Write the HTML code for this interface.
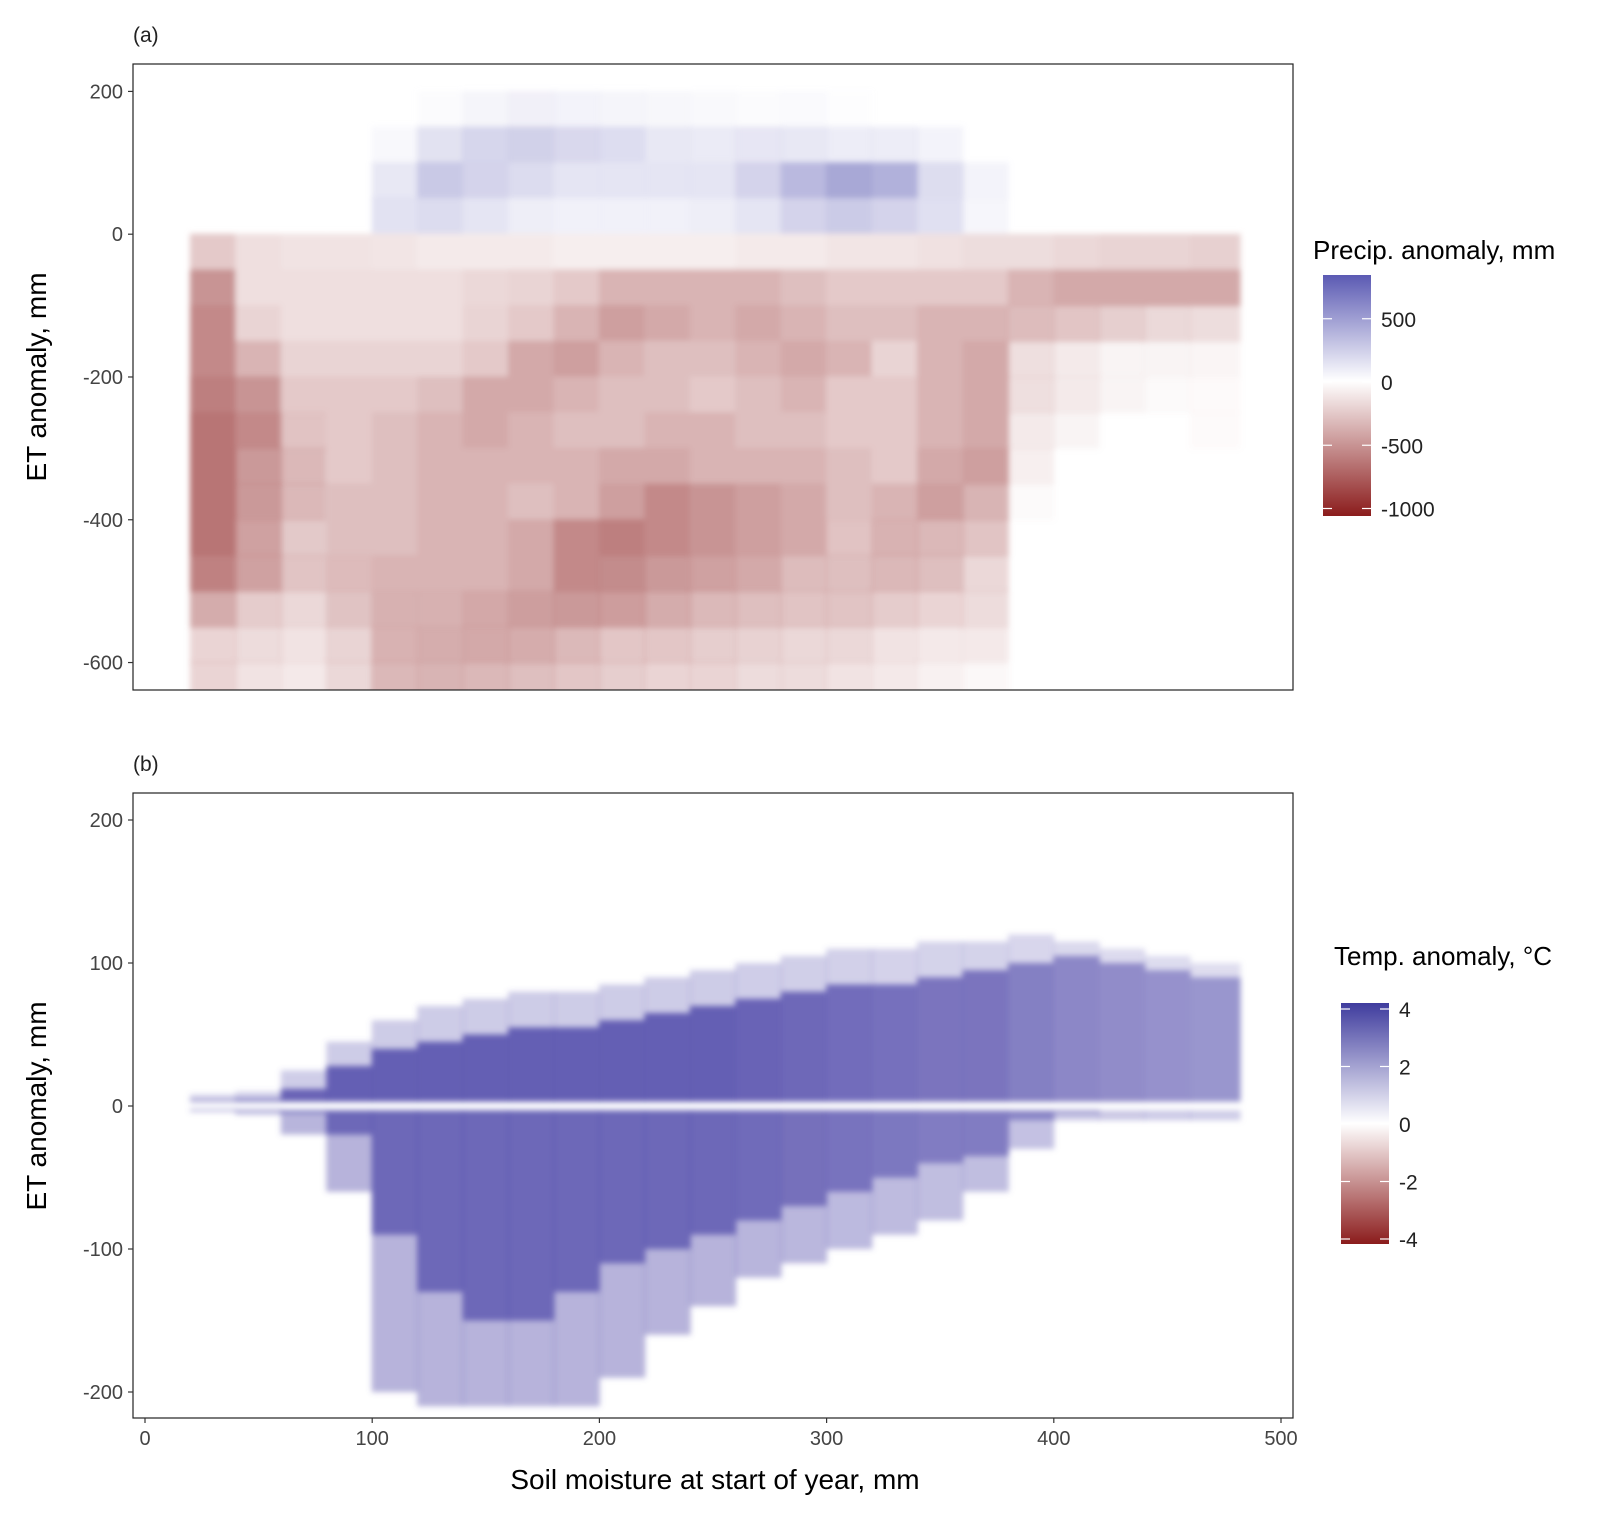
<!DOCTYPE html>
<html><head><meta charset="utf-8"><style>
body{margin:0;background:#fff;font-family:"Liberation Sans",sans-serif}
text{font-family:"Liberation Sans","DejaVu Sans",sans-serif}
</style></head><body>
<svg id="svg" width="1620" height="1513" xmlns="http://www.w3.org/2000/svg">
<defs>
<filter id="blur" x="-5%" y="-5%" width="110%" height="110%"><feGaussianBlur stdDeviation="3"/></filter>
<clipPath id="clipA"><rect x="133" y="64" width="1160" height="626"/></clipPath>
<clipPath id="clipB"><rect x="133" y="793" width="1160" height="625"/></clipPath>
<linearGradient id="gradA" x1="0" y1="0" x2="0" y2="1">
<stop offset="0" stop-color="#5b5ab3"/><stop offset="0.44" stop-color="#ffffff"/><stop offset="1" stop-color="#8b1c1c"/></linearGradient>
<linearGradient id="gradB" x1="0" y1="0" x2="0" y2="1">
<stop offset="0" stop-color="#3f3c9e"/><stop offset="0.5" stop-color="#ffffff"/><stop offset="1" stop-color="#8b1c1c"/></linearGradient>
</defs>
<g id="layerA" clip-path="url(#clipA)" filter="url(#blur)"></g>
<g id="layerB" clip-path="url(#clipB)" filter="url(#blur)"></g>
<rect x="133" y="64" width="1160" height="626" fill="none" stroke="#222" stroke-width="1.2"/>
<rect x="133" y="793" width="1160" height="625" fill="none" stroke="#222" stroke-width="1.2"/>
<text x="133" y="42" font-size="21" fill="#222">(a)</text>
<text x="133" y="771" font-size="21" fill="#222">(b)</text>
<text transform="translate(46,377) rotate(-90)" text-anchor="middle" font-size="28" fill="#000">ET anomaly, mm</text>
<text transform="translate(46,1106) rotate(-90)" text-anchor="middle" font-size="28" fill="#000">ET anomaly, mm</text>
<text x="715" y="1489" text-anchor="middle" font-size="28" fill="#000">Soil moisture at start of year, mm</text>
<g id="axes"></g>
<text x="1313" y="259" font-size="26" fill="#000">Precip. anomaly, mm</text>
<rect x="1323" y="275" width="48" height="241" fill="url(#gradA)"/>
<text x="1334" y="965" font-size="26" fill="#000">Temp. anomaly, °C</text>
<rect x="1341" y="1003" width="48" height="241" fill="url(#gradB)"/>
<g id="legends"></g>
</svg>
<script>
// ---------- data ----------
const xBins=[30,50,70,90,110,130,150,170,190,210,230,250,270,290,310,330,350,370,390,410,430,450,470];
const etRowsA=[175,125,75,25,-25,-75,-125,-175,-225,-275,-325,-375,-425,-475,-525,-575,-625];
const N=null;
// precip anomaly per cell (rows=etRowsA, cols=xBins)
const precipA=[
[N,N,N,N,N,200,200,250,200,200,200,200,200,250,250,N,N,N,N,N,N,N,N],
[N,N,N,N,250,300,300,300,250,250,200,200,250,300,300,300,300,N,N,N,N,N,N],
[N,N,N,N,300,350,250,200,150,150,150,150,250,400,500,450,350,300,N,N,N,N,N],
[N,N,N,N,250,200,150,100,80,80,80,100,150,250,300,250,200,150,N,N,N,N,N],
[-250,-150,-130,-130,-120,-100,-100,-100,-80,-80,-80,-80,-100,-100,-120,-120,-140,-160,-160,-180,-200,-200,-220],
[-500,-150,-150,-150,-150,-150,-180,-200,-250,-350,-350,-350,-350,-300,-250,-250,-250,-250,-350,-400,-400,-400,-400],
[-550,-200,-150,-150,-150,-150,-200,-250,-350,-450,-400,-350,-400,-350,-300,-300,-350,-350,-450,-450,-450,-450,-400],
[-550,-350,-200,-200,-200,-200,-250,-400,-450,-350,-300,-300,-350,-400,-350,-200,-350,-400,-500,-500,-500,-500,-450],
[-600,-500,-250,-250,-250,-300,-400,-400,-350,-300,-300,-250,-300,-350,-250,-250,-350,-400,-500,-500,-500,-500,-450],
[-650,-550,-350,-250,-300,-350,-400,-350,-300,-300,-350,-350,-300,-300,-250,-250,-350,-400,-500,-500,N,N,-450],
[-650,-600,-550,-250,-300,-350,-350,-350,-350,-400,-400,-350,-350,-350,-300,-250,-400,-450,-500,N,N,N,N],
[-650,-600,-550,-300,-300,-350,-350,-300,-350,-450,-550,-500,-450,-400,-300,-350,-450,-500,-500,N,N,N,N],
[-650,-550,-500,-300,-300,-350,-350,-400,-550,-600,-550,-500,-450,-400,-350,-450,-550,-550,N,N,N,N,N],
[-650,-550,-550,-350,-350,-350,-350,-400,-550,-600,-600,-550,-500,-450,-500,-550,-600,-600,N,N,N,N,N],
[-650,-600,-600,-400,-400,-400,-450,-500,-600,-650,-650,-650,-600,-550,-550,-600,-650,-650,N,N,N,N,N],
[-650,-650,-650,-500,-450,-450,-500,-550,-650,-650,-650,-650,-600,-600,-600,-650,-650,-650,N,N,N,N,N],
[-650,-650,-650,-600,-550,-500,-550,-600,-650,-650,-650,-650,-650,-650,-650,-650,-650,-650,N,N,N,N,N]];
// point density per cell (0..1)
const densityA=[
[0,0,0,0,0,.1,.25,.3,.3,.25,.2,.15,.1,.1,.05,0,0,0,0,0,0,0,0],
[0,0,0,0,.15,.5,.7,.8,.8,.7,.6,.5,.5,.4,.3,.3,.2,0,0,0,0,0,0],
[0,0,0,0,.4,.8,.9,.9,.9,.9,.9,.9,.9,.9,.9,.9,.5,.2,0,0,0,0,0],
[0,0,0,0,.6,.9,.9,.9,.9,.9,.9,.9,.9,.9,.9,.9,.8,.3,0,0,0,0,0],
[1,1,1,1,1,1,1,1,1,1,1,1,1,1,1,1,1,1,1,1,1,1,1],
[1,1,1,1,1,1,1,1,1,1,1,1,1,1,1,1,1,1,1,1,1,1,1],
[1,1,1,1,1,1,1,1,1,1,1,1,1,1,1,1,1,1,.7,.6,.5,.4,.4],
[1,1,1,1,1,1,1,1,1,1,1,1,1,1,1,1,1,1,.3,.2,.1,.1,.1],
[1,1,1,1,1,1,1,1,1,1,1,1,1,1,1,1,1,1,.3,.2,.1,.05,.05],
[1,1,.8,1,1,1,1,1,1,1,1,1,1,1,1,1,1,1,.2,.1,0,0,.05],
[1,.8,.6,1,1,1,1,1,1,1,1,1,1,1,1,1,1,1,.15,0,0,0,0],
[1,.8,.6,1,1,1,1,1,1,1,1,1,1,1,1,1,1,.7,.05,0,0,0,0],
[1,.8,.5,1,1,1,1,1,1,1,1,1,1,1,.8,.8,.6,.5,0,0,0,0,0],
[.9,.8,.5,.9,1,1,1,1,1,.9,.8,.8,.8,.7,.6,.6,.5,.3,0,0,0,0,0],
[.6,.4,.3,.7,.9,.9,.9,.9,.8,.7,.6,.5,.5,.5,.5,.4,.3,.25,0,0,0,0,0],
[.3,.25,.2,.4,.8,.85,.8,.7,.5,.4,.4,.35,.35,.3,.3,.2,.15,.15,0,0,0,0,0],
[.3,.2,.15,.3,.6,.7,.6,.5,.4,.35,.3,.3,.25,.25,.2,.15,.1,.05,0,0,0,0,0]];
// panel b: per x bin
const bUpperTop=[4,5,12,28,40,45,50,55,55,60,65,70,75,80,85,85,90,95,100,105,100,95,90];
const bUpperSparse=[8,10,25,45,60,70,75,80,80,85,90,95,100,105,110,110,115,115,120,115,110,105,100];
const bLowerDense=[-2,-2,-5,-20,-90,-130,-150,-150,-130,-110,-100,-90,-80,-70,-60,-50,-40,-35,-10,-5,-3,-3,-3];
const bLowerSparse=[-4,-6,-20,-60,-200,-210,-210,-210,-210,-190,-160,-140,-120,-110,-100,-90,-80,-60,-30,-10,-10,-10,-10];
const bTemp=[3.2,3.2,3.4,3.5,3.5,3.5,3.5,3.5,3.5,3.5,3.5,3.5,3.4,3.3,3.2,3.1,3.0,3.0,2.8,2.6,2.5,2.4,2.3];
const xTicks=[0,100,200,300,400,500];
const yTicksA=[200,0,-200,-400,-600];
const yTicksB=[200,100,0,-100,-200];
const legATicks=[500,0,-500,-1000];
const legBTicks=[4,2,0,-2,-4];
// ---------- scales ----------
const X=v=>145+v*2.272;
const YA=v=>234.2-v*0.7139;
const YB=v=>1106-v*1.43;
const lerp=(a,b,t)=>a.map((c,i)=>Math.round(c+(b[i]-c)*t));
const rgb=c=>`rgb(${c[0]},${c[1]},${c[2]})`;
const W=[255,255,255],R=[139,28,28],B=[91,90,179],B2=[60,52,160];
function colA(v){return v<0?rgb(lerp(W,R,Math.min(1,-v/1060))):rgb(lerp(W,B,Math.min(1,v/850)));}
function colB(v){return v<0?rgb(lerp(W,R,Math.min(1,-v/4.2))):rgb(lerp(W,B2,Math.min(1,v/4.2)));}
const NS="http://www.w3.org/2000/svg";
function mk(tag,attrs,parent){const e=document.createElementNS(NS,tag);for(const k in attrs)e.setAttribute(k,attrs[k]);parent.appendChild(e);return e;}
// ---------- panel a ----------
const la=document.getElementById('layerA');
etRowsA.forEach((et,r)=>{xBins.forEach((xc,c)=>{
 const v=precipA[r][c],d=densityA[r][c];
 if(v===null||!d)return;
 const x0=X(xc-10),x1=X(xc+10+(c===xBins.length-1?2:0));
 const e=mk('rect',{x:x0-0.5,y:YA(et+25)-0.5,width:x1-x0+1,height:YA(et-25)-YA(et+25)+1,fill:colA(v),'fill-opacity':d},la);
 
 
});});
// ---------- panel b ----------
const lb=document.getElementById('layerB');
xBins.forEach((xc,i)=>{
 const x0=X(xc-10),x1=X(xc+10+(i===xBins.length-1?2:0)),w=x1-x0+1;
 const col=colB(bTemp[i]);
 let e=mk('rect',{x:x0-0.5,y:YB(bUpperSparse[i]),width:w,height:YB(bUpperTop[i])-YB(bUpperSparse[i]),fill:col,'fill-opacity':0.3},lb);
 
 
 e=mk('rect',{x:x0-0.5,y:YB(bUpperTop[i]),width:w,height:YB(3)-YB(bUpperTop[i]),fill:col,'fill-opacity':0.95},lb);
 
 
 e=mk('rect',{x:x0-0.5,y:YB(-3),width:w,height:YB(bLowerDense[i])-YB(-3),fill:colB(bTemp[i]),'fill-opacity':0.9},lb);
 
 
 e=mk('rect',{x:x0-0.5,y:YB(bLowerDense[i]),width:w,height:Math.max(0,YB(bLowerSparse[i])-YB(bLowerDense[i])),fill:colB(bTemp[i]),'fill-opacity':0.45},lb);
 
 
});
// ---------- axes ----------
const ax=document.getElementById('axes');
function tick(x1,y1,x2,y2){const e=mk('line',{x1,y1,x2,y2,stroke:'#333','stroke-width':1.2},ax);}
function lab(x,y,t,anchor){const e=mk('text',{x,y,'text-anchor':anchor,'font-size':20,fill:'#444'},ax);e.textContent=t;}
yTicksA.forEach(v=>{tick(128,YA(v),133,YA(v));lab(123,YA(v)+7,v,'end');});
yTicksB.forEach(v=>{tick(128,YB(v),133,YB(v));lab(123,YB(v)+7,v,'end');});
xTicks.forEach(v=>{tick(X(v),1418,X(v),1423);lab(X(v),1445,v,'middle');});
// ---------- legends ----------
const lg=document.getElementById('legends');
function ltick(x,y,w){const e=mk('line',{x1:x,y1:y,x2:x+w,y2:y,stroke:'#fff','stroke-width':1.2},lg);}
function llab(x,y,t){const e=mk('text',{x,y,'font-size':21,fill:'#222'},lg);e.textContent=t;}
const LA=v=>382-v*0.1265;
legATicks.forEach(v=>{ltick(1323,LA(v),9);ltick(1362,LA(v),9);llab(1381,LA(v)+8,v);});
const LB=v=>1124-v*28.75;
legBTicks.forEach(v=>{ltick(1341,LB(v),9);ltick(1380,LB(v),9);llab(1399,LB(v)+8,v);});
</script>
</body></html>
